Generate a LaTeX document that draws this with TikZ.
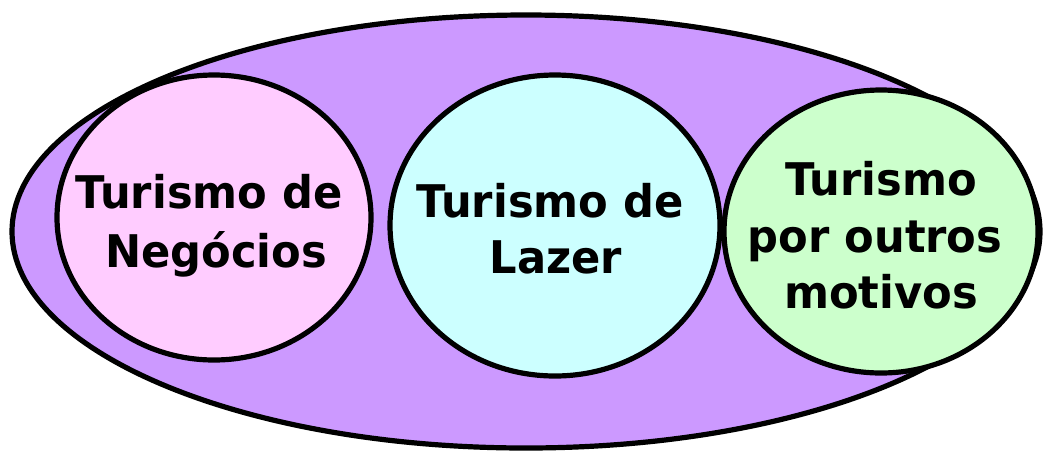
\documentclass[tikz,border=0pt]{standalone}
\usepackage{fontspec}
\usetikzlibrary{shapes.geometric}
\newfontfamily\lblfont[FakeStretch=0.96]{DejaVu Sans}
\definecolor{outerfill}{HTML}{CC99FF}
\definecolor{pinkfill}{HTML}{FFCCFF}
\definecolor{cyanfill}{HTML}{CCFFFF}
\definecolor{greenfill}{HTML}{CCFFCC}
\tikzset{
  blob/.style={ellipse, draw=black, line width=2.6pt, inner sep=0pt, outer sep=0pt},
  lbl/.style={anchor=base, inner sep=0pt, font=\lblfont\bfseries\fontsize{22.5}{28}\selectfont}
}
\begin{document}
\begin{tikzpicture}[x=0.5pt,y=-0.5pt]
\useasboundingbox (0,0) rectangle (1043,451);
\node[blob, fill=outerfill, minimum width=514pt, minimum height=216.5pt] (outer) at (526,231.5) {};
\node[blob, fill=pinkfill, minimum width=157pt, minimum height=142.5pt] (neg) at (214,217.5) {};
\node[blob, fill=cyanfill, minimum width=165pt, minimum height=150.5pt] (laz) at (555,225.5) {};
\node[blob, fill=greenfill, minimum width=157pt, minimum height=141.5pt] (out) at (881,231.5) {};
\node[lbl] (neg1) at (209,208) {Turismo de};
\node[lbl] (neg2) at (216,267) {Negócios};
\node[lbl] (laz1) at (550,217) {Turismo de};
\node[lbl] (laz2) at (556,273) {Lazer};
\node[lbl] (out1) at (881,195) {Turismo};
\node[lbl] (out2) at (875,252) {por outros};
\node[lbl] (out3) at (881,308) {motivos};
\end{tikzpicture}
\end{document}
